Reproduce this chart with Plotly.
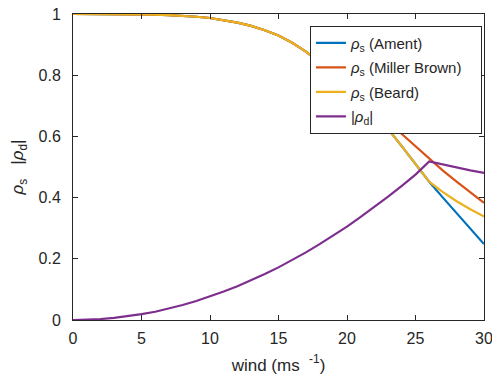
import plotly.graph_objects as go

wind = list(range(0, 31))

rho_ament = [1.0, 1.0, 1.0, 1.0, 0.999, 0.999, 0.998, 0.996, 0.994, 0.991, 0.987,
             0.980, 0.972, 0.961, 0.947, 0.930, 0.906, 0.877, 0.843, 0.806, 0.766,
             0.723, 0.675, 0.624, 0.568, 0.511, 0.452, 0.400, 0.350, 0.298, 0.248]
rho_miller = [1.0, 1.0, 1.0, 1.0, 0.999, 0.999, 0.998, 0.996, 0.994, 0.991, 0.987,
              0.980, 0.972, 0.961, 0.947, 0.930, 0.906, 0.877, 0.843, 0.807, 0.770,
              0.731, 0.691, 0.650, 0.608, 0.567, 0.526, 0.488, 0.452, 0.417, 0.383]
rho_beard = [1.0, 1.0, 1.0, 1.0, 0.999, 0.999, 0.998, 0.996, 0.994, 0.991, 0.987,
             0.980, 0.972, 0.961, 0.947, 0.930, 0.906, 0.877, 0.843, 0.806, 0.766,
             0.723, 0.675, 0.624, 0.568, 0.511, 0.452, 0.418, 0.388, 0.362, 0.338]
rho_d = [0.0, 0.001, 0.003, 0.007, 0.012, 0.019, 0.027, 0.037, 0.049, 0.062, 0.077,
         0.093, 0.110, 0.129, 0.150, 0.172, 0.196, 0.221, 0.248, 0.276, 0.305,
         0.337, 0.369, 0.403, 0.438, 0.475, 0.518, 0.508, 0.498, 0.489, 0.481]

series = [
    ("<i>ρ</i><sub>s</sub> (Ament)", rho_ament, "#0072BD"),
    ("<i>ρ</i><sub>s</sub> (Miller Brown)&nbsp;&nbsp;&nbsp;", rho_miller, "#D95319"),
    ("<i>ρ</i><sub>s</sub> (Beard)", rho_beard, "#EDB120"),
    ("|<i>ρ</i><sub>d</sub>|", rho_d, "#7E2F8E"),
]

fig = go.Figure()
for i, (name, vals, col) in enumerate(series):
    fig.add_trace(go.Scatter(x=wind, y=vals, mode="lines", name=name,
                             legendgroup=str(i),
                             line=dict(color=col, width=2.2)))

axcol = "#262626"
common = dict(showgrid=False, zeroline=False, showline=True, linecolor=axcol,
              linewidth=1, mirror="ticks", ticks="inside", ticklen=5,
              tickcolor=axcol, tickfont=dict(size=16, color=axcol),
              automargin=False, ticklabeloverflow="allow")

fig.update_layout(
    width=492, height=380,
    margin=dict(l=73, r=8, t=14, b=60),
    paper_bgcolor="white", plot_bgcolor="white",
    font=dict(family="Liberation Sans, Arial, sans-serif", color=axcol),
    xaxis=dict(range=[0, 30], tickvals=[0, 5, 10, 15, 20, 25, 30],
               ticklabelstandoff=4,
               title=dict(text="wind (ms  <sup>-1</sup>)", font=dict(size=17), standoff=12),
               **common),
    yaxis=dict(range=[0, 1], tickvals=[0, 0.2, 0.4, 0.6, 0.8, 1],
               ticktext=["0", "0.2", "0.4", "0.6", "0.8", "1"],
               ticklabelstandoff=8,
               title=dict(text="<i>ρ</i><sub>s</sub>   |<i>ρ</i><sub>d</sub>|",
                          font=dict(size=17), standoff=10),
               **common),
    legend=dict(x=0.995, xanchor="right", y=0.962, yanchor="top",
                bgcolor="white", bordercolor=axcol, borderwidth=1,
                font=dict(size=15, color=axcol), tracegroupgap=2,
                itemwidth=30),
    showlegend=True,
)

fig.write_html("out.html")
